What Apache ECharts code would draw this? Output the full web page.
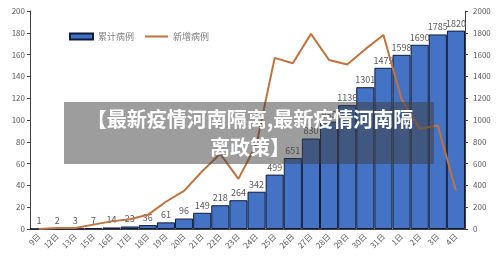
<!DOCTYPE html>
<html>
<head>
<meta charset="utf-8">
<script src="https://cdn.jsdelivr.net/npm/echarts@6/dist/echarts.min.js"></script>
<style>
  html, body { margin: 0; padding: 0; background: #fff; }
  #chart { width: 500px; height: 268px; }
</style>
</head>
<body>
<div id="chart"></div>
<script>
// 日期
const days = ['9日', '12日', '13日', '15日', '16日', '17日', '18日', '19日', '20日', '21日', '22日', '23日',
  '24日', '25日', '26日', '27日', '28日', '29日', '30日', '31日', '1日', '2日', '3日', '4日']
// 累计病例 (右轴)
const totalCases = [1, 2, 3, 7, 14, 23, 36, 61, 96, 149, 218, 264,
  342, 499, 651, 830, 985, 1136, 1301, 1479, 1598, 1690, 1785, 1820]
// 新增病例 (左轴)
const newCases = [0, 1, 1, 4, 7, 9, 13, 25, 35, 53, 69, 46,
  78, 157, 152, 179, 155, 151, 165, 178, 119, 92, 95, 35]

const titleLines = ['【最新疫情河南隔离,最新疫情河南隔', '离政策】']

const chart = echarts.init(document.getElementById('chart'))
const font = '"Noto Sans CJK SC", "Noto Sans", sans-serif'
const grey = '#595959'

const option = {
  animation: false,
  textStyle: { fontFamily: font },
  legend: {
    left: 64,
    top: 27,
    itemWidth: 23,
    itemHeight: 6,
    itemGap: 10,
    textStyle: { fontSize: 9, color: '#7f7f7f', fontFamily: font },
    data: [
      { name: '累计病例', icon: 'rect' },
      { name: '新增病例', itemStyle: { color: 'transparent', borderWidth: 0 } }
    ]
  },
  grid: { left: 30, right: 35, top: 11, bottom: 39 },
  xAxis: {
    type: 'category',
    data: days,
    axisLine: { lineStyle: { color: '#404040' } },
    axisTick: { show: false },
    axisLabel: { interval: 0, rotate: 45, fontSize: 8, color: grey, margin: 6 }
  },
  yAxis: [
    {
      type: 'value',
      min: 0, max: 200, interval: 20,
      position: 'left',
      splitLine: { show: false },
      axisLine: { show: true, lineStyle: { color: '#404040' } },
      axisTick: { show: true, length: 3 },
      axisLabel: { fontSize: 8, color: grey, margin: 5 }
    },
    {
      type: 'value',
      min: 0, max: 2000, interval: 200,
      position: 'right',
      splitLine: { show: false },
      axisLine: { show: true, lineStyle: { color: '#404040' } },
      axisTick: { show: true, length: 3 },
      axisLabel: { fontSize: 8, color: grey, margin: 8, formatter: v => String(v) }
    }
  ],
  series: [
    {
      name: '累计病例',
      type: 'bar',
      yAxisIndex: 1,
      data: totalCases,
      barCategoryGap: '0%',
      itemStyle: { color: '#4472C4', borderColor: '#0f1c3a', borderWidth: 1 },
      label: { show: true, position: 'top', fontSize: 9, color: grey, distance: 3 }
    },
    {
      name: '新增病例',
      type: 'line',
      yAxisIndex: 0,
      data: newCases,
      symbol: 'none',
      lineStyle: { color: '#C0733F', width: 2 },
      itemStyle: { color: '#C0733F' }
    }
  ],
  graphic: [
    {
      type: 'rect',
      left: 64, top: 102,
      shape: { width: 370, height: 62 },
      style: { fill: 'rgba(60,60,60,0.5)' },
      z: 100
    },
    {
      type: 'text',
      x: 250,
      y: 105,
      z: 101,
      style: {
        text: titleLines.join('\n'),
        fill: '#fff',
        font: 'bold 20px ' + font,
        lineHeight: 28,
        align: 'center'
      }
    }
  ]
}

chart.setOption(option)
</script>
</body>
</html>
